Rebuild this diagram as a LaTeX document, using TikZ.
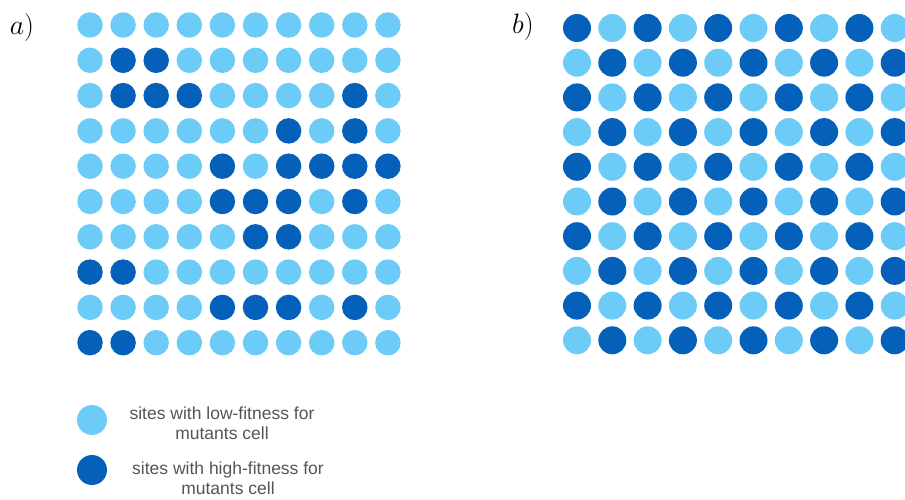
\documentclass[tikz,border=0pt]{standalone}
\usepackage{fontspec}
\setsansfont{Liberation Sans}
\definecolor{lowfit}{RGB}{108,204,247}
\definecolor{highfit}{RGB}{5,96,186}
\definecolor{legtext}{RGB}{85,85,85}
\begin{document}
\begin{tikzpicture}[x=1pt,y=-1pt,
  site/.style={circle,inner sep=0pt,minimum size=#1,draw=none},
  lo/.style={fill=lowfit},
  hi/.style={fill=highfit},
  legtxt/.style={font=\sffamily\fontsize{17.5}{20}\selectfont,text=legtext,align=center,inner sep=0pt},
  panel/.style={font=\fontsize{20.74}{21}\selectfont,inner sep=0pt,scale=1.35}]
\useasboundingbox (0,0) rectangle (905,500);
% panel labels
\node[panel] (la) at (22,28) {$a)$};
\node[panel] (lb) at (523,27) {$b)$};
% grid a (1 = high fitness)
\def\gridA{{0,0,0,0,0,0,0,0,0,0,
            0,1,1,0,0,0,0,0,0,0,
            0,1,1,1,0,0,0,0,1,0,
            0,0,0,0,0,0,1,0,1,0,
            0,0,0,0,1,0,1,1,1,1,
            0,0,0,0,1,1,1,0,1,0,
            0,0,0,0,0,1,1,0,0,0,
            1,1,0,0,0,0,0,0,0,0,
            0,0,0,0,1,1,1,0,1,0,
            1,1,0,0,0,0,0,0,0,0}}
\foreach \r in {0,...,9}{
  \foreach \c in {0,...,9}{
    \pgfmathtruncatemacro{\v}{\gridA[\r*10+\c]}
    \ifnum\v=1 \def\st{hi}\else\def\st{lo}\fi
    \node[site=25.5pt,\st] (a-\r-\c) at ({90+33.1*\c},{25+35.3*\r}) {};
  }
}
% grid b (checkerboard), clipped at right edge
\begin{scope}
\clip (540,0) rectangle (905,500);
\foreach \r in {0,...,9}{
  \foreach \c in {0,...,9}{
    \pgfmathtruncatemacro{\v}{mod(\r+\c+1,2)}
    \ifnum\v=1 \def\st{hi}\else\def\st{lo}\fi
    \node[site=28pt,\st] (b-\r-\c) at ({577+35.3*\c},{28+34.7*\r}) {};
  }
}
\end{scope}
% legend
\node[site=30pt,lo] (leglo) at (92,420) {};
\node[site=30pt,hi] (leghi) at (92,470) {};
\node[legtxt] (txtlo) at (222,423) {sites with low-fitness for\\mutants cell};
\node[legtxt] (txthi) at (228,478) {sites with high-fitness for\\mutants cell};
\end{tikzpicture}
\end{document}
